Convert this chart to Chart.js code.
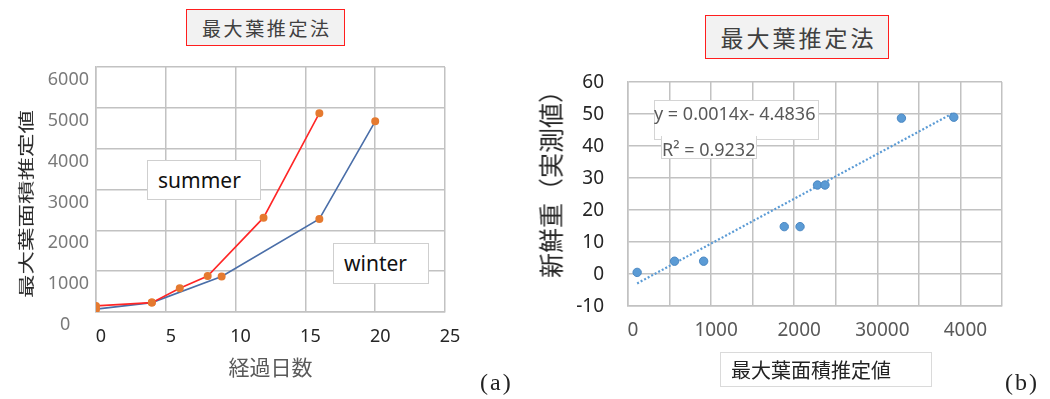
<!DOCTYPE html>
<html>
<head>
<meta charset="utf-8">
<script src="https://cdn.jsdelivr.net/npm/chart.js@4.4.1/dist/chart.umd.min.js"></script>
<style>
  html, body { margin: 0; padding: 0; background: #fff; }
  #stage { position: relative; width: 1050px; height: 399px; overflow: hidden; background: #fff;
           font-family: "Noto Sans CJK JP", "Noto Sans", sans-serif; }
  canvas { position: absolute; top: 0; }
  #cvA { left: 0; }
  #cvB { left: 520px; }
  .note { position: absolute; box-sizing: border-box; white-space: nowrap; line-height: 1; }
  .boxed { display: flex; align-items: center; }
  .title { justify-content: center; background: #f2f2f2; border: 1.5px solid #ff1e1e; color: #404040; }
  .tag { background: #fff; border: 1px solid #cfcfcf; color: #111; font-family: "Noto Sans", sans-serif; }
  .vt { transform-origin: 50% 50%; }
  .panel { font-family: "Liberation Serif", serif; font-size: 24px; color: #222; letter-spacing: 2px; }
  .eq { background: #fff; border: 1px solid #d4d4d4; color: #595959; font-family: "Noto Sans", sans-serif; font-size: 18px; }
</style>
</head>
<body>
<div id="stage">
  <canvas id="cvA" width="520" height="399"></canvas>
  <canvas id="cvB" width="530" height="399"></canvas>

  <!-- panel (a) -->
  <div class="note boxed title" style="left:186px;top:9px;width:159px;height:37px;font-size:19px;letter-spacing:2.6px;padding-left:2.6px">最大葉推定法</div>
  <div class="note vt" style="left:25.5px;top:203.5px;font-size:23.5px;color:#262626;transform:translate(-50%,-50%) rotate(-90deg) scale(1,0.68)">最大葉面積推定値</div>
  <div class="note boxed tag" style="left:147px;top:160px;width:114px;height:40px;font-size:21px;padding-left:10px">summer</div>
  <div class="note boxed tag" style="left:333px;top:243px;width:96px;height:41px;font-size:21px;padding-left:10px">winter</div>
  <div class="note panel" style="left:480px;top:370px">(a)</div>

  <!-- panel (b) -->
  <div class="note boxed title" style="left:705px;top:15px;width:184px;height:44px;font-size:23px;letter-spacing:3px;padding-left:3px">最大葉推定法</div>
  <div class="note vt" style="left:550px;top:178px;font-size:25px;color:#262626;transform:translate(-50%,-50%) rotate(-90deg)">新鮮重（実測値）</div>
  <div class="note eq" style="left:654px;top:100px;width:165px;height:40px"></div>
  <div class="note eq" style="left:661px;top:136px;width:96px;height:23px;border-top:none"></div>
  <div class="note" id="eqLine" style="left:654px;top:104px;font-family:'Noto Sans',sans-serif;font-size:18px;color:#595959"></div>
  <div class="note" id="r2Line" style="left:662px;top:140px;font-family:'Noto Sans',sans-serif;font-size:18px;color:#595959"></div>
  <div class="note boxed" style="left:720px;top:352px;width:212px;height:35px;border:1px solid #dadada;font-size:20px;color:#222;padding-left:10px">最大葉面積推定値</div>
  <div class="note panel" style="left:1005px;top:370px">(b)</div>
</div>

<script>
// Leaf area growth over days, summer and winter crops
const summerDays = [0, 4, 6, 8, 12, 16];
const summerArea = [150, 230, 580, 880, 2310, 4870];
const winterDays = [0, 4, 9, 16, 20];
const winterArea = [70, 230, 870, 2280, 4670];
const dayTicks = [0, 5, 10, 15, 20, 25];
const areaTicks = [0, 1000, 2000, 3000, 4000, 5000, 6000];

// Estimated maximum leaf area against measured fresh weight
const estArea = [1100, 5600, 9100, 18800, 20700, 22800, 23700, 32900, 39200];
const freshWeight = [0.5, 4, 4, 14.8, 14.8, 27.8, 27.8, 48.7, 49];
const estTickValues = [0, 10000, 20000, 30000, 40000];
const estTickLabels = ['0', '1000', '2000', '30000', '4000'];
const weightTicks = [-10, 0, 10, 20, 30, 40, 50, 60];
const trendSlope = 0.0014;
const trendIntercept = -4.4836;
const trendR2 = 0.9232;

const GRID = '#c2c2c2';
const gridOpts = { color: GRID, lineWidth: 1.5, drawTicks: false };
const borderOpts = { color: GRID, width: 1.5 };
const toPoints = (xs, ys) => xs.map((x, i) => ({ x: x, y: ys[i] }));
const fixedTicks = arr => scale => { scale.ticks = arr.map(v => ({ value: v })); };

Chart.defaults.font.family = '"Noto Sans", "Noto Sans CJK JP", sans-serif';

new Chart(document.getElementById('cvA'), {
  type: 'line',
  data: {
    datasets: [
      { label: 'summer', data: toPoints(summerDays, summerArea), borderColor: '#ff2626', borderWidth: 1.6,
        pointBackgroundColor: '#e57a30', pointBorderColor: '#e57a30', pointRadius: 3.2, tension: 0 },
      { label: 'winter', data: toPoints(winterDays, winterArea), borderColor: '#4a6ea8', borderWidth: 1.6,
        pointBackgroundColor: '#e57a30', pointBorderColor: '#e57a30', pointRadius: 3.2, tension: 0 }
    ]
  },
  options: {
    responsive: false, animation: false, devicePixelRatio: 1,
    layout: { padding: { top: 67, right: 75, left: 0, bottom: 0 } },
    plugins: { legend: { display: false }, tooltip: { enabled: false } },
    scales: {
      x: {
        type: 'linear', min: 0, max: 25,
        afterBuildTicks: fixedTicks(dayTicks),
        afterFit: s => { s.height = 87; },
        grid: gridOpts, border: borderOpts,
        ticks: { padding: 14, labelOffset: 5, color: '#262626', font: { size: 18 }, maxRotation: 0, autoSkip: false },
        title: { display: true, text: '経過日数', color: '#595959',
                 font: { family: '"Noto Sans CJK JP"', size: 21 }, padding: { top: 0, bottom: 19 } }
      },
      y: {
        type: 'linear', min: 0, max: 6000,
        afterBuildTicks: fixedTicks(areaTicks),
        afterFit: s => { s.width = 96; },
        grid: gridOpts, border: borderOpts,
        ticks: { padding: 7, labelOffset: 13, color: '#7a7a7a', font: { size: 18 },
                 callback: v => (v === 0 ? '0    ' : String(v)) }
      }
    }
  }
});

const trendX = [Math.min(...estArea), Math.max(...estArea)];
const trendPoints = trendX.map(x => ({ x: x, y: trendSlope * x + trendIntercept }));

new Chart(document.getElementById('cvB'), {
  type: 'scatter',
  data: {
    datasets: [
      { label: '新鮮重', data: toPoints(estArea, freshWeight), pointBackgroundColor: '#5b9bd5',
        pointBorderColor: '#4a87c2', pointBorderWidth: 1, pointRadius: 4.2, showLine: false },
      { label: 'trend', data: trendPoints, showLine: true, borderColor: '#5b9bd5', borderWidth: 2.2,
        borderDash: [2, 2], pointRadius: 0, fill: false }
    ]
  },
  options: {
    responsive: false, animation: false, devicePixelRatio: 1,
    layout: { padding: { top: 82, right: 48, left: 0, bottom: 0 } },
    plugins: { legend: { display: false }, tooltip: { enabled: false } },
    scales: {
      x: {
        type: 'linear', min: 0, max: 45000,
        afterFit: s => { s.height = 93; },
        grid: gridOpts, border: borderOpts,
        ticks: { stepSize: 5000, padding: 13, labelOffset: 5, color: '#595959', font: { size: 19 },
                 maxRotation: 0, autoSkip: false,
                 callback: v => { const i = estTickValues.indexOf(v); return i >= 0 ? estTickLabels[i] : ''; } }
      },
      y: {
        type: 'linear', min: -10, max: 60,
        afterBuildTicks: fixedTicks(weightTicks),
        afterFit: s => { s.width = 108; },
        grid: gridOpts, border: borderOpts,
        ticks: { padding: 24, labelOffset: 1, color: '#262626', font: { size: 19 } }
      }
    }
  }
});

document.getElementById('eqLine').textContent =
  'y = ' + trendSlope + 'x- ' + Math.abs(trendIntercept);
document.getElementById('r2Line').textContent = 'R² = ' + trendR2;
</script>
</body>
</html>
